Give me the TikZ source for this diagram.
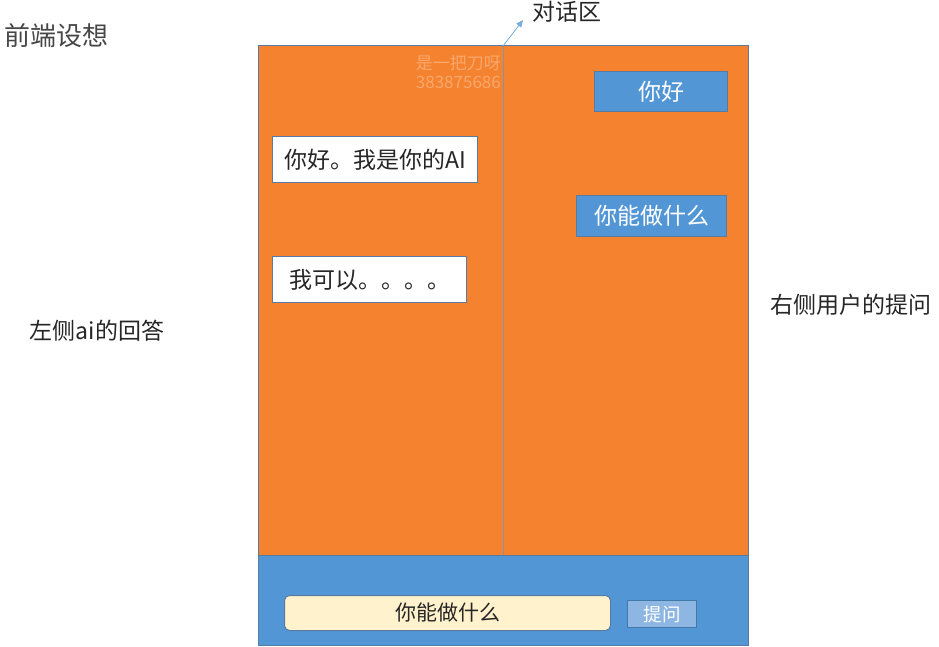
\documentclass[tikz,border=0pt]{standalone}
\usepackage{fontspec}
\setmainfont{Noto Sans CJK SC}
\usetikzlibrary{arrows.meta}
\definecolor{orng}{HTML}{F5822E}
\definecolor{blu}{HTML}{5396D5}
\definecolor{edge}{HTML}{5A7BA0}
\definecolor{cream}{HTML}{FFF2CC}
\definecolor{btn}{HTML}{8DB6E3}
\definecolor{txt}{HTML}{262626}
\tikzset{
  aibox/.style={draw=edge, line width=1pt, fill=white, text=txt, font=\fontsize{23}{25}\selectfont, anchor=north west, inner sep=0pt},
  userbox/.style={draw=edge, line width=1pt, fill=blu, text=white, font=\fontsize{23}{25}\selectfont, anchor=north west, inner sep=0pt},
  note/.style={text=txt, font=\fontsize{23}{25}\selectfont, inner sep=0pt},
  wmark/.style={text=orng!70!white, font=\fontsize{17}{19}\selectfont, inner sep=0pt, align=right}
}
\begin{document}
\begin{tikzpicture}[x=1pt,y=-1pt]
\useasboundingbox[fill=white] (0,0) rectangle (939,647);
% frame
\fill[orng] (258,46) rectangle (748,555);
\fill[blu] (258,555) rectangle (748,645);
\draw[edge, line width=1pt] (258,46) rectangle (748,645);
\draw[edge, line width=0.8pt] (258,555) -- (748,555);
\coordinate (top) at (503,46);
\coordinate (bot) at (503,555);
\draw[edge!80!white, line width=0.6pt] (top) -- (bot);
% title
\node[text=txt!85!white, font=\fontsize{26}{28}\selectfont, anchor=west, inner sep=0pt] (title) at (4,36) {前端设想};
% watermark
\node[wmark, anchor=east] (wm) at (501,72) {是一把刀呀\\383875686};
% dialog label
\node[note, anchor=west] (dlg) at (532,12) {对话区};
\draw[-{Triangle[length=7pt,width=6pt]}, blu!80!white, line width=0.8pt] (top) -- (523,20);
% ai messages
\node[aibox, minimum width=205pt, minimum height=46pt] (ai1) at (272,136) {你好。我是你的AI};
\node[aibox, minimum width=194pt, minimum height=46pt] (ai2) at (272,256) {我可以。。。。};
% user messages
\node[userbox, minimum width=133pt, minimum height=40pt] (u1) at (594,71) {你好};
\node[userbox, minimum width=150pt, minimum height=41pt] (u2) at (576,195) {你能做什么};
% side notes
\node[note] (left) at (97,331) {左侧ai的回答};
\node[note] (right) at (851,305) {右侧用户的提问};
% input bar
\node[draw=edge, line width=1pt, fill=cream, rounded corners=5pt, minimum width=326pt, minimum height=35pt, anchor=north west, inner sep=0pt, text=txt, font=\fontsize{21}{23}\selectfont] (inp) at (284,595) {你能做什么};
\node[draw=blu!80!black, line width=1pt, fill=btn, minimum width=69pt, minimum height=27pt, anchor=north west, inner sep=0pt, text=white, font=\fontsize{18.5}{20}\selectfont] (ask) at (627,600) {提问};
\end{tikzpicture}
\end{document}
